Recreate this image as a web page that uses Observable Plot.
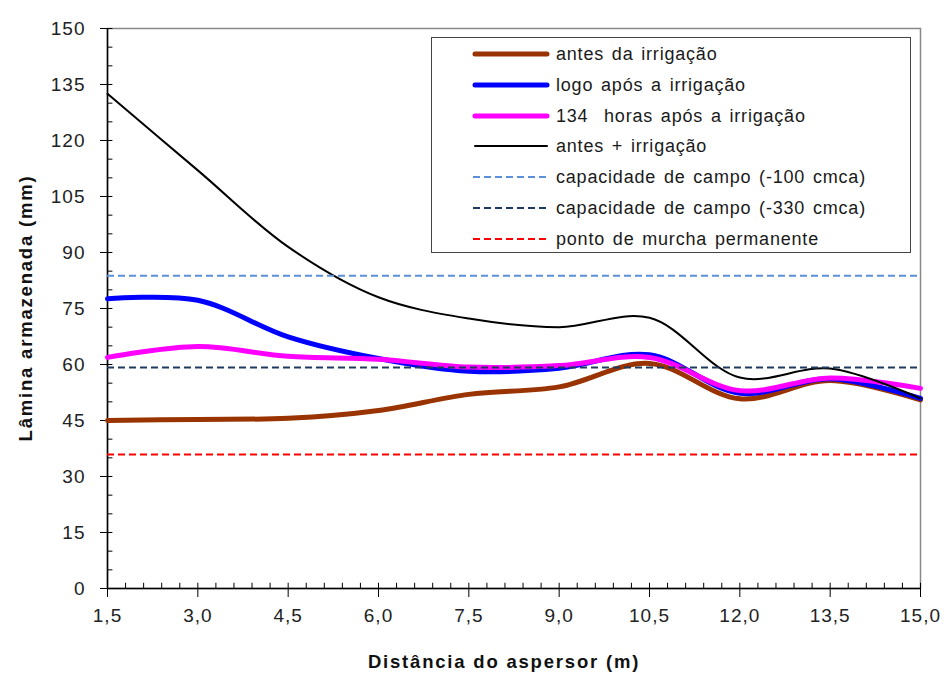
<!DOCTYPE html>
<html>
<head>
<meta charset="utf-8">
<script src="https://cdn.jsdelivr.net/npm/d3@7"></script>
<script src="https://cdn.jsdelivr.net/npm/@observablehq/plot@0.6"></script>
<style>
  html, body { margin: 0; padding: 0; background: #fff; }
  #wrap { position: relative; width: 944px; height: 673px; font-family: "Liberation Sans", Arial, sans-serif; }
  .title { position: absolute; font-weight: bold; font-size: 18.5px; letter-spacing: 1.8px; color: #111; white-space: nowrap; line-height: 18.5px; }
  #legend { position: absolute; left: 431px; top: 37px; width: 478px; height: 214px; border: 1.5px solid #444; background: #fff; }
  .lrow { position: absolute; left: 0; height: 24px; font-size: 18px; letter-spacing: 0.8px; word-spacing: 2px; color: #1a1a1a; white-space: pre; }
  .lrow svg { position: absolute; left: 40px; top: 0; }
  .lrow span { position: absolute; left: 124px; top: 1px; line-height: 22px; white-space: pre; }
</style>
</head>
<body>
<div id="wrap"></div>
<script>
// Distance from the sprinkler (m)
const dist = [1.5, 3.0, 4.5, 6.0, 7.5, 9.0, 10.5, 12.0, 13.5, 15.0];
// Stored water depth (mm)
const antes     = [45.0, 45.3, 45.6, 47.7, 52.0, 54.0, 60.3, 50.8, 55.7, 50.5];
const logoApos  = [77.6, 77.2, 67.4, 61.6, 58.2, 59.0, 62.6, 52.3, 56.2, 50.9];
const horas134  = [61.9, 64.8, 62.2, 61.4, 59.3, 59.7, 61.9, 53.0, 56.4, 53.6];
const antesIrr  = [132.5, 112.0, 91.5, 78.0, 72.3, 70.0, 72.5, 56.5, 58.9, 50.9];
// Reference levels (mm)
const cc100 = 83.8;
const cc330 = 59.2;
const pmp   = 35.9;

const seriesNames = ["antes da irrigação", "logo após a irrigação", "134  horas após a irrigação", "antes + irrigação"];
const refNames = ["capacidade de campo (-100 cmca)", "capacidade de campo (-330 cmca)", "ponto de murcha permanente"];

const xTicks = d3.range(1.5, 15.01, 1.5);
const yTicks = d3.range(0, 150.1, 15);
const xMinor = d3.range(0, 46).map(i => 1.5 + i * 0.3);
const yMinor = d3.range(0, 31).map(i => i * 5);

const lines = [
  {name: seriesNames[0], values: antes,    color: "#993300", width: 5},
  {name: seriesNames[1], values: logoApos, color: "#0000ff", width: 5},
  {name: seriesNames[2], values: horas134, color: "#ff00ff", width: 5},
  {name: seriesNames[3], values: antesIrr, color: "#000000", width: 2}
];
const refs = [
  {name: refNames[0], value: cc100, color: "#5b8fd8"},
  {name: refNames[1], value: cc330, color: "#1f3a5f"},
  {name: refNames[2], value: pmp,   color: "#ff0000"}
];

const fmt = d => d.toFixed(1).replace(".", ",");

const marks = [
  Plot.frame({stroke: "#888", strokeWidth: 1.5}),
  Plot.ruleX(xMinor, {x: d => d, y1: 0, y2: 1.4, stroke: "#000"}),
  Plot.ruleY(yMinor, {y: d => d, x1: 1.5, x2: 1.59, stroke: "#000"}),
  Plot.ruleX([1.5], {stroke: "#000", strokeWidth: 1.5}),
  Plot.ruleY([0], {stroke: "#000", strokeWidth: 1.5}),
  Plot.axisX({ticks: xTicks, tickFormat: fmt, tickSize: 9, tickPadding: 11, label: null, fill: "#222"}),
  Plot.axisY({ticks: yTicks, tickFormat: d => String(d), tickSize: 7, tickPadding: 15, label: null, fill: "#222"})
];
for (const s of lines) {
  marks.push(Plot.line(dist.map((x, i) => ({x, y: s.values[i]})), {
    x: "x", y: "y", curve: "catmull-rom", stroke: s.color, strokeWidth: s.width,
    strokeLinejoin: "round", strokeLinecap: "round"
  }));
}
for (const r of refs) {
  marks.push(Plot.ruleY([r.value], {x1: 1.5, x2: 15, stroke: r.color, strokeWidth: 2, strokeDasharray: "7,4"}));
}

const chart = Plot.plot({
  width: 944,
  height: 673,
  marginLeft: 107,
  marginRight: 24,
  marginTop: 28,
  marginBottom: 85,
  x: {domain: [1.5, 15], type: "linear"},
  y: {domain: [0, 150], type: "linear"},
  style: {fontFamily: "Liberation Sans, Arial, sans-serif", fontSize: "19px", letterSpacing: "1px", background: "#fff", overflow: "visible"},
  marks
});

const wrap = document.getElementById("wrap");
wrap.appendChild(chart);

// Axis titles
const xt = document.createElement("div");
xt.className = "title";
xt.textContent = "Distância do aspersor (m)";
xt.style.left = "504px";
xt.style.top = "653px";
xt.style.transform = "translateX(-50%)";
wrap.appendChild(xt);

const yt = document.createElement("div");
yt.className = "title";
yt.textContent = "Lâmina armazenada (mm)";
yt.style.left = "26px";
yt.style.top = "308px";
yt.style.transform = "translate(-50%, -50%) rotate(-90deg)";
wrap.appendChild(yt);

// Legend
const legend = document.createElement("div");
legend.id = "legend";
const entries = [
  ...lines.map(s => ({name: s.name, color: s.color, width: s.width, dash: null})),
  ...refs.map(r => ({name: r.name, color: r.color, width: 2, dash: "7,4"}))
];
entries.forEach((e, i) => {
  const row = document.createElement("div");
  row.className = "lrow";
  row.style.top = (4 + i * 30.8) + "px";
  const ns = "http://www.w3.org/2000/svg";
  const svg = document.createElementNS(ns, "svg");
  svg.setAttribute("width", "80");
  svg.setAttribute("height", "24");
  const ln = document.createElementNS(ns, "line");
  ln.setAttribute("x1", e.dash ? 1 : 3);
  ln.setAttribute("x2", e.dash ? 77 : 75);
  ln.setAttribute("y1", 12);
  ln.setAttribute("y2", 12);
  ln.setAttribute("stroke", e.color);
  ln.setAttribute("stroke-width", e.width);
  ln.setAttribute("stroke-linecap", e.dash ? "butt" : "round");
  if (e.dash) ln.setAttribute("stroke-dasharray", e.dash);
  svg.appendChild(ln);
  const sp = document.createElement("span");
  sp.textContent = e.name;
  row.appendChild(svg);
  row.appendChild(sp);
  legend.appendChild(row);
});
wrap.appendChild(legend);
</script>
</body>
</html>
